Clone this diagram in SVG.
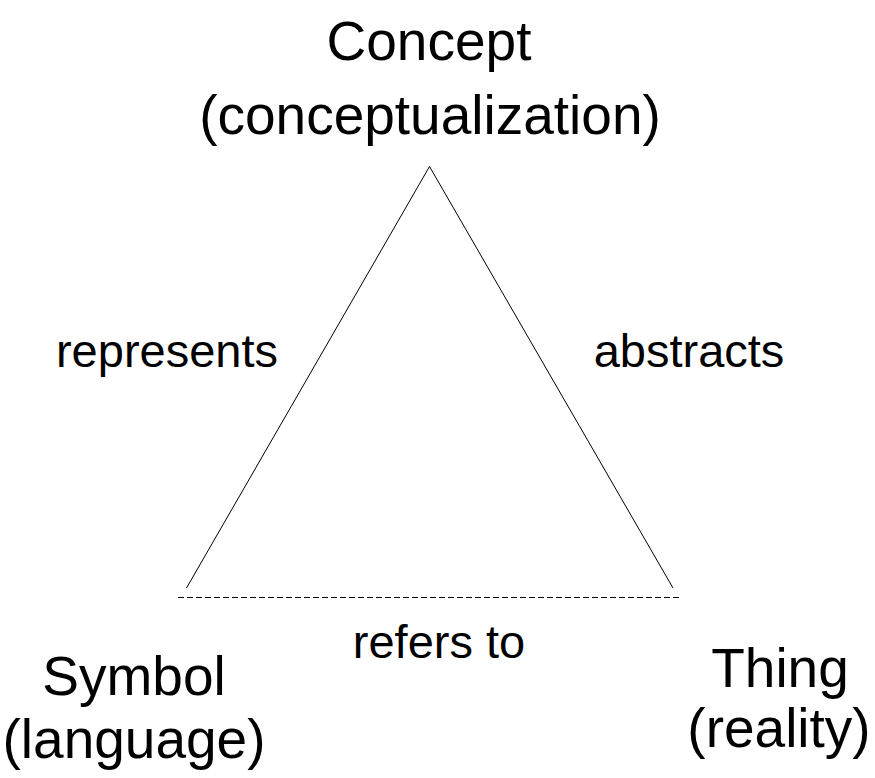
<svg xmlns="http://www.w3.org/2000/svg" width="875" height="778" viewBox="0 0 875 778">
<style>
.big{font-family:"Liberation Sans",Arial,sans-serif;font-size:55px;fill:#000;text-anchor:middle}
.lbl{font-family:"Liberation Sans",Arial,sans-serif;font-size:47px;fill:#000;text-anchor:middle}
.edge{stroke:#000;stroke-width:1;fill:none}
.dash{stroke-dasharray:6,3}
</style>
<rect width="875" height="778" fill="#fff"/>
<g id="connectors">
<line class="edge" x1="429.5" y1="166.5" x2="186.5" y2="588"/>
<line class="edge" x1="429.5" y1="166.5" x2="673" y2="588"/>
<line class="edge dash" x1="178" y1="597.5" x2="681" y2="597.5"/>
<text class="lbl" x="167" y="367">represents</text>
<text class="lbl" x="689" y="367">abstracts</text>
<text class="lbl" x="439" y="658">refers to</text>
</g>
<g id="concept">
<text class="big" x="429" y="60">Concept</text>
<text class="big" x="430" y="134">(conceptualization)</text>
</g>
<g id="symbol">
<text class="big" x="134" y="695">Symbol</text>
<text class="big" x="134" y="758">(language)</text>
</g>
<g id="thing">
<text class="big" x="780" y="687">Thing</text>
<text class="big" x="779" y="747">(reality)</text>
</g>
</svg>
